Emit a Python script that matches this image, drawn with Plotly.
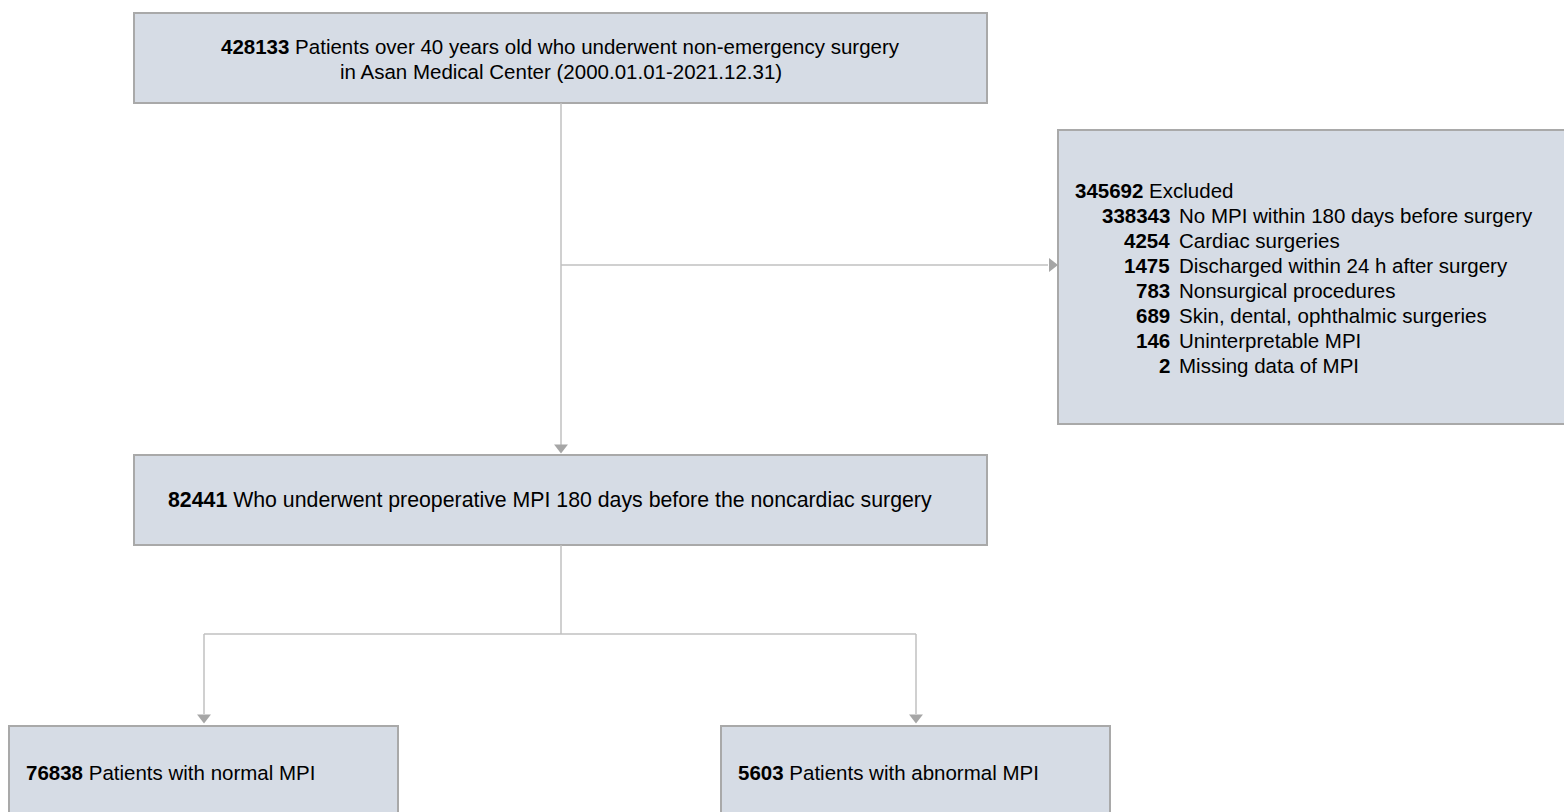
import plotly.graph_objects as go

# flow counts and labels
top_n = 428133
top_label = ["Patients over 40 years old who underwent non-emergency surgery",
             "in Asan Medical Center (2000.01.01-2021.12.31)"]
excl_total = 345692
excl_counts = [338343, 4254, 1475, 783, 689, 146, 2]
excl_labels = ["No MPI within 180 days before surgery", "Cardiac surgeries",
               "Discharged within 24 h after surgery", "Nonsurgical procedures",
               "Skin, dental, ophthalmic surgeries", "Uninterpretable MPI",
               "Missing data of MPI"]
mid_n = 82441
mid_label = "Who underwent preoperative MPI 180 days before the noncardiac surgery"
group_n = [76838, 5603]
group_labels = ["Patients with normal MPI", "Patients with abnormal MPI"]

FILL = "#d6dce5"
EDGE = "#a9a9a9"
LINE = "#c0c0c0"
HEAD = "#a6a6a6"
FAMILY = "Liberation Sans, Arial"


def box(x0, y0, x1, y1):
    return dict(type="rect", xref="x", yref="y", x0=x0, y0=y0, x1=x1, y1=y1,
                fillcolor=FILL, line=dict(color=EDGE, width=2), layer="below")


def seg(x0, y0, x1, y1):
    return dict(type="line", xref="x", yref="y", x0=x0, y0=y0, x1=x1, y1=y1,
                line=dict(color=LINE, width=1.5), layer="below")


def label(x, y, text, anchor="left", size=20.5):
    return dict(x=x, y=y, xref="x", yref="y", text=text, showarrow=False,
                xanchor=anchor, yanchor="middle", align=anchor if anchor != "center" else "center",
                font=dict(family=FAMILY, size=size, color="#000000"))


fig = go.Figure()

shapes = [
    box(134, 13, 987, 103),
    box(1058, 130, 1570, 424),
    box(134, 455, 987, 545),
    box(9, 726, 398, 830),
    box(721, 726, 1110, 830),
    seg(561, 103, 561, 445),
    seg(561, 265, 1048, 265),
    seg(561, 545, 561, 634),
    seg(204, 634, 916, 634),
    seg(204, 634, 204, 714),
    seg(916, 634, 916, 714),
]

# arrowheads
fig.add_trace(go.Scatter(x=[561, 204, 916], y=[447.5, 717.5, 717.5], mode="markers",
                         marker=dict(symbol="triangle-down", size=12, color=HEAD),
                         hoverinfo="skip"))
fig.add_trace(go.Scatter(x=[1052], y=[265], mode="markers",
                         marker=dict(symbol="triangle-right", size=12, color=HEAD),
                         hoverinfo="skip"))

annotations = [
    label(560, 46, f"<b>{top_n}</b> {top_label[0]}", anchor="center"),
    label(561, 71, top_label[1], anchor="center"),
    label(549.5, 500, f"<b>{mid_n}</b> {mid_label}", anchor="center", size=21.3),
    label(1073, 190, f"<b>{excl_total}</b> Excluded"),
]
for i, (n, t) in enumerate(zip(excl_counts, excl_labels)):
    y = 215 + i * 25.1
    annotations.append(label(1172, y, f"<b>{n}</b>", anchor="right"))
    annotations.append(label(1177, y, t))
annotations.append(label(24, 772, f"<b>{group_n[0]}</b> {group_labels[0]}"))
annotations.append(label(736, 772, f"<b>{group_n[1]}</b> {group_labels[1]}"))

fig.update_layout(
    width=1564, height=812,
    margin=dict(l=0, r=0, t=0, b=0),
    paper_bgcolor="white", plot_bgcolor="white",
    showlegend=False,
    xaxis=dict(range=[0, 1564], visible=False, fixedrange=True),
    yaxis=dict(range=[812, 0], visible=False, fixedrange=True),
    shapes=shapes,
    annotations=annotations,
)

fig.write_html("out.html", config=dict(displayModeBar=False),
               post_script="document.body.style.margin='0';document.body.style.overflow='hidden';")
